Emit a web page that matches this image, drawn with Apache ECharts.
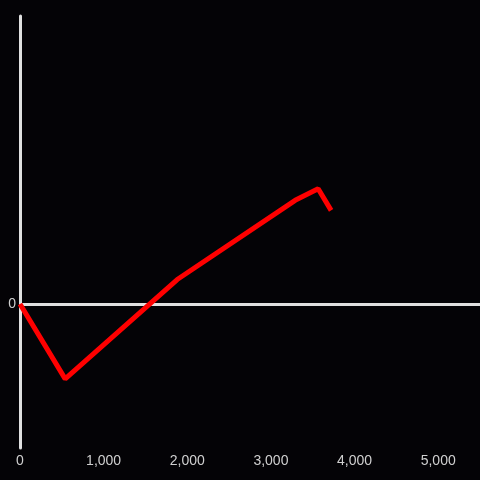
<!DOCTYPE html>
<html>
<head>
<meta charset="utf-8">
<script src="https://cdn.jsdelivr.net/npm/echarts@6/dist/echarts.min.js"></script>
<style>
  html, body { margin: 0; padding: 0; background: #040306; }
  #chart { width: 480px; height: 480px; }
</style>
</head>
<body>
<div id="chart"></div>
<script>
// data
const xValues = [0, 540, 1880, 3290, 3565, 3720]
const yValues = [0, -52, 17, 72, 80, 65]

const chart = echarts.init(document.getElementById('chart'))

const lineData = xValues.map((x, i) => [x, yValues[i]])

chart.setOption({
  animation: false,
  backgroundColor: '#040306',
  grid: { left: 20, right: 0, top: 16, bottom: 32, containLabel: false },
  xAxis: {
    type: 'value',
    min: 0,
    max: 5500,
    interval: 1000,
    axisLine: { show: false },
    axisTick: { show: false },
    splitLine: { show: false },
    axisLabel: {
      color: '#d0d0d0',
      fontSize: 14,
      fontFamily: 'Liberation Sans, Arial, sans-serif',
      margin: 6,
      showMaxLabel: false,
      formatter: v => v.toLocaleString('en-US')
    }
  },
  yAxis: {
    type: 'value',
    min: -100,
    max: 200,
    interval: 100,
    axisLine: { show: true, onZero: false, lineStyle: { color: '#e0e0e0', width: 3 } },
    axisTick: { show: false },
    splitLine: { show: false },
    axisLabel: {
      color: '#d0d0d0',
      fontSize: 14,
      fontFamily: 'Liberation Sans, Arial, sans-serif',
      margin: 4,
      formatter: v => (v === 0 ? '0' : '')
    }
  },
  series: [
    {
      type: 'line',
      data: lineData,
      showSymbol: false,
      lineStyle: { color: '#ff0000', width: 5 },
      markLine: {
        silent: true,
        symbol: ['none', 'none'],
        label: { show: false },
        lineStyle: { color: '#e0e0e0', width: 3, type: 'solid' },
        data: [{ yAxis: 0 }],
        z: 1
      },
      z: 3
    }
  ]
})
</script>
</body>
</html>
